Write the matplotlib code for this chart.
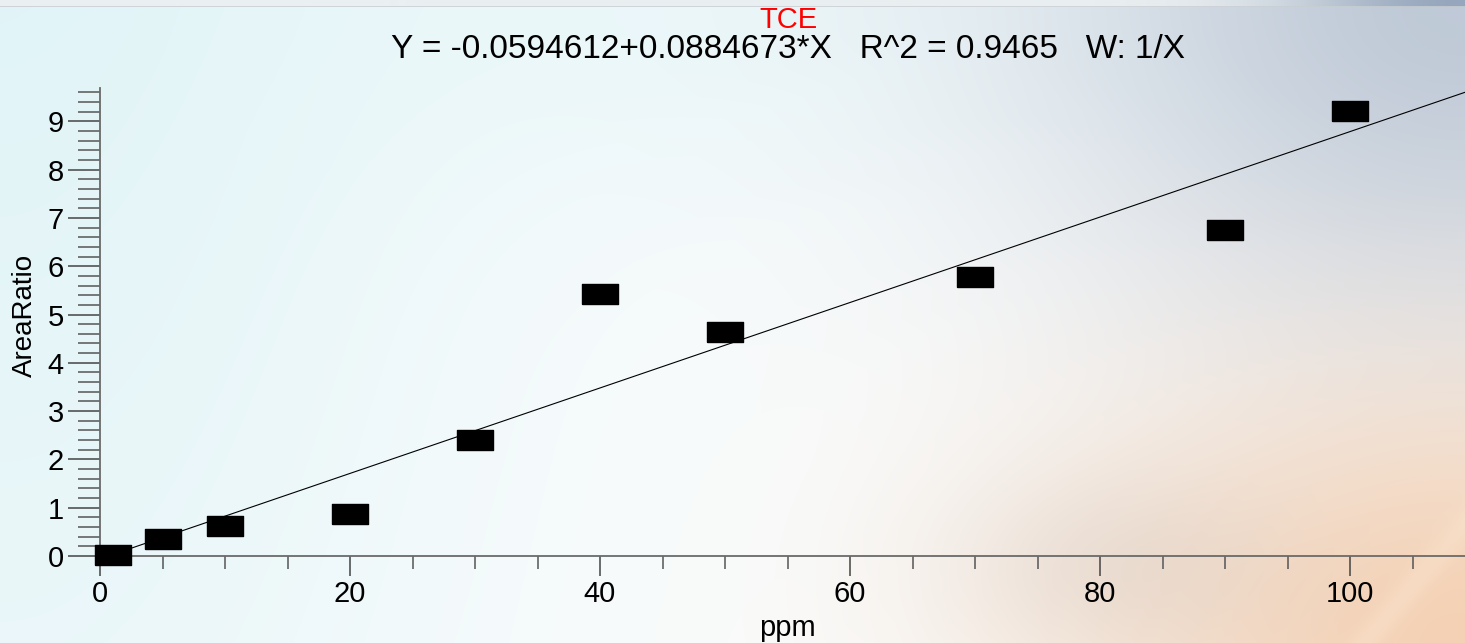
import numpy as np
import matplotlib
matplotlib.use('Agg')
import matplotlib.pyplot as plt
from matplotlib.ticker import MultipleLocator

# 数据
ppm = [1, 5, 10, 20, 30, 40, 50, 70, 90, 100]
area_ratio = [0.03, 0.35, 0.62, 0.87, 2.40, 5.42, 4.64, 5.78, 6.75, 9.21]

intercept = -0.0594612
slope = 0.0884673
compound = 'TCE'
fit_text = 'Y = -0.0594612+0.0884673*X   R^2 = 0.9465   W: 1/X'
x_ticks = [0, 20, 40, 60, 80, 100]
y_ticks = [0, 1, 2, 3, 4, 5, 6, 7, 8, 9]

plt.rcParams['font.family'] = ['Liberation Sans', 'DejaVu Sans']

W, H = 1465, 643
fig = plt.figure(figsize=(W / 100, H / 100), dpi=100)

# 背景渐变
yy, xx = np.mgrid[0:H, 0:W]
u = xx / W
v = yy / H
img = np.ones((H, W, 3)) * np.array([252, 253, 253]) / 255


def blend(base, color, w):
    w = np.clip(w, 0, 1)[..., None]
    return base * (1 - w) + np.array(color) / 255 * w


img = blend(img, (220, 242, 246), 0.85 * np.exp(-(u / 0.36) ** 2) * (1 - 0.35 * v))
img = blend(img, (228, 246, 249), 0.55 * np.exp(-(v / 0.3) ** 2) * np.exp(-((u - 0.45) / 0.35) ** 2))
d = np.sqrt(((1 - u) / 0.3) ** 2 + (v / 0.55) ** 2)
img = blend(img, (176, 189, 206), 0.8 * np.exp(-d ** 2))
d = np.sqrt(((1 - u) / 0.28) ** 2 + ((1 - v) / 0.42) ** 2)
img = blend(img, (244, 205, 173), 0.9 * np.exp(-d ** 2))
d = np.sqrt(((u - 0.77) / 0.12) ** 2 + ((v - 0.88) / 0.15) ** 2)
img = blend(img, (216, 202, 192), 0.4 * np.exp(-d ** 2))
# 右下角浅色斜线
p0 = np.array([1465.0, 523.0])
p1 = np.array([1367.0, 640.0])
t = (p1 - p0) / np.linalg.norm(p1 - p0)
dist = np.abs((xx - p0[0]) * t[1] - (yy - p0[1]) * t[0])
img = blend(img, (250, 228, 205), 0.45 * np.exp(-(dist / 14) ** 2) * (u > 0.85))
# 顶部窄条
top = blend(np.ones((7, W, 3)) * np.array([234, 239, 241]) / 255,
            (150, 166, 188), np.exp(-((1 - u[:7]) / 0.12) ** 2))
img[:7] = top
img[6] = blend(img[6], (200, 206, 210), np.ones(W) * 0.8)

bg = fig.add_axes([0, 0, 1, 1], zorder=0)
bg.imshow(img, aspect='auto', interpolation='bilinear')
bg.axis('off')

ax = fig.add_axes([100 / W, (H - 556) / H, 1365 / W, (556 - 88) / H], zorder=1)
ax.set_facecolor('none')

x_max = 109.2
ax.set_xlim(0, x_max)
ax.set_ylim(0, 9.69)

# 拟合直线
xf = np.linspace(0, x_max, 200)
ax.plot(xf, intercept + slope * xf, color='black', lw=0.8, zorder=2)

# 数据点：黑色矩形
rect = [(-1, -0.53), (1, -0.53), (1, 0.53), (-1, 0.53), (-1, -0.53)]
ax.plot(ppm, area_ratio, linestyle='none', marker=rect, markersize=26,
        color='black', clip_on=False, zorder=3)

for s in ['top', 'right']:
    ax.spines[s].set_visible(False)
for s in ['left', 'bottom']:
    ax.spines[s].set_color('#6a6a6a')
    ax.spines[s].set_linewidth(1.3)

ax.set_xticks(x_ticks)
ax.set_yticks(y_ticks)
ax.xaxis.set_minor_locator(MultipleLocator(5))
ax.yaxis.set_minor_locator(MultipleLocator(0.2))
ax.tick_params(axis='x', which='major', length=14.5, width=1.1, color='#444444',
               labelsize=21, pad=3)
ax.tick_params(axis='x', which='minor', length=9.5, width=1.1, color='#555555')
ax.tick_params(axis='y', which='major', length=23, width=1.1, color='#444444',
               labelsize=21, pad=3)
ax.tick_params(axis='y', which='minor', length=16, width=1.1, color='#555555')

fig.text(788 / W, 1 - 20 / H, compound, color='red', fontsize=21,
         ha='center', va='center')
fig.text(788 / W, 1 - 50 / H, fit_text, color='black', fontsize=24,
         ha='center', va='center')
fig.text(787 / W, 1 - 628 / H, 'ppm', fontsize=21, ha='center', va='center')
fig.text(25 / W, 1 - 315 / H, 'AreaRatio', fontsize=20, rotation=90,
         ha='center', va='center')

fig.savefig('out.png', dpi=100)
